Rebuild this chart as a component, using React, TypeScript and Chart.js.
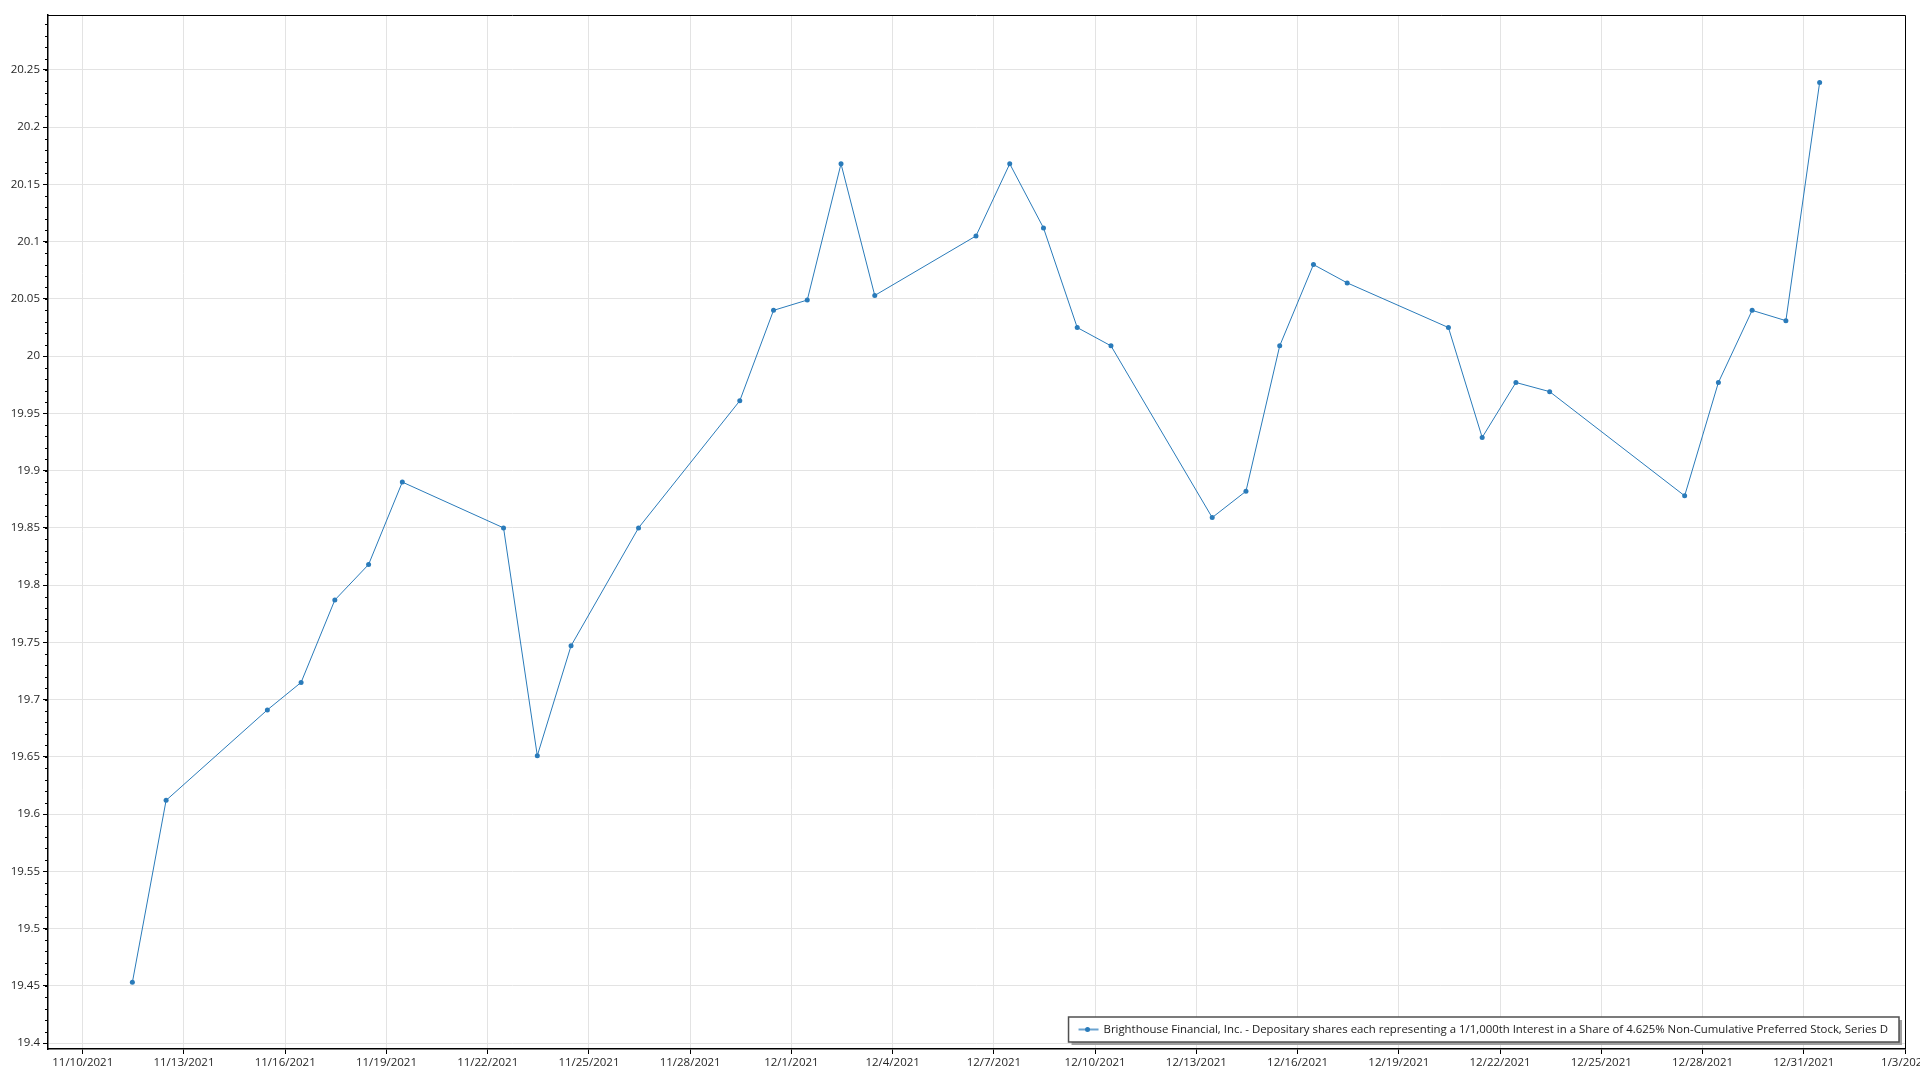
import React, { useEffect, useRef } from "react";
import { Chart, registerables } from "chart.js";

Chart.register(...registerables);

const seriesLabel =
  "Brighthouse Financial, Inc. - Depositary shares each representing a 1/1,000th Interest in a Share of 4.625% Non-Cumulative Preferred Stock, Series D";

const tradeDates = [
  "2021-11-11", "2021-11-12", "2021-11-15", "2021-11-16", "2021-11-17", "2021-11-18", "2021-11-19",
  "2021-11-22", "2021-11-23", "2021-11-24", "2021-11-26", "2021-11-29", "2021-11-30",
  "2021-12-01", "2021-12-02", "2021-12-03", "2021-12-06", "2021-12-07", "2021-12-08", "2021-12-09", "2021-12-10",
  "2021-12-13", "2021-12-14", "2021-12-15", "2021-12-16", "2021-12-17",
  "2021-12-20", "2021-12-21", "2021-12-22", "2021-12-23",
  "2021-12-27", "2021-12-28", "2021-12-29", "2021-12-30", "2021-12-31",
];

const closePrices = [
  19.453, 19.612, 19.691, 19.715, 19.787, 19.818, 19.89,
  19.85, 19.651, 19.747, 19.85, 19.961, 20.04,
  20.049, 20.168, 20.053, 20.105, 20.168, 20.112, 20.025, 20.009,
  19.859, 19.882, 20.009, 20.08, 20.064,
  20.025, 19.929, 19.977, 19.969,
  19.878, 19.977, 20.04, 20.031, 20.239,
];

const pointTimeOfDay = "T11:17:00Z";
const xAxisStart = "2021-11-08T23:17:00Z";
const xAxisEnd = "2022-01-03T00:00:00Z";
const xTickStart = "2021-11-10T00:00:00Z";
const xTickStepDays = 3;

const yAxisMin = 19.3948;
const yAxisMax = 20.298;
const yMajorStep = 0.05;
const yMinorStep = 0.01;

const DAY = 86400000;
const LINE_COLOR = "#2a7bba";
const FONT = "'Open Sans', 'Noto Sans', sans-serif";

function fmtDate(ms: number) {
  const d = new Date(ms);
  return `${d.getUTCMonth() + 1}/${d.getUTCDate()}/${d.getUTCFullYear()}`;
}

export default function App() {
  const ref = useRef<HTMLCanvasElement | null>(null);

  useEffect(() => {
    const canvas = ref.current;
    if (!canvas) return;

    const points = tradeDates.map((d, i) => ({
      x: Date.parse(d + pointTimeOfDay),
      y: closePrices[i],
    }));

    const framePlugin = {
      id: "frameAndLegend",
      afterDraw(chart: any) {
        const { ctx, chartArea } = chart;
        const { left, right, top, bottom } = chartArea;
        const yScale = chart.scales.y;
        ctx.save();
        ctx.strokeStyle = "#000";
        ctx.lineWidth = 1;
        const first = Math.ceil((yAxisMin - 1e-9) / yMinorStep);
        const last = Math.floor((yAxisMax + 1e-9) / yMinorStep);
        for (let k = first; k <= last; k++) {
          const v = k * yMinorStep;
          const py = Math.round(yScale.getPixelForValue(v)) + 0.5;
          ctx.beginPath();
          ctx.moveTo(left - 3, py);
          ctx.lineTo(left, py);
          ctx.stroke();
        }
        ctx.beginPath();
        ctx.moveTo(Math.round(left), Math.round(top) + 0.5);
        ctx.lineTo(Math.round(right) + 0.5, Math.round(top) + 0.5);
        ctx.lineTo(Math.round(right) + 0.5, Math.round(bottom));
        ctx.stroke();

        ctx.font = `11.4px ${FONT}`;
        const label = chart.data.datasets[0].label as string;
        const tw = ctx.measureText(label).width;
        const boxRight = right - 6;
        const boxBottom = bottom - 7;
        const boxH = 25;
        const boxW = tw + 35 + 11;
        const boxLeft = boxRight - boxW;
        const boxTop = boxBottom - boxH;
        ctx.fillStyle = "#a0a0a0";
        ctx.fillRect(boxLeft + 3, boxTop + 3, boxW, boxH);
        ctx.fillStyle = "#ffffff";
        ctx.fillRect(boxLeft, boxTop, boxW, boxH);
        ctx.strokeStyle = "#505050";
        ctx.lineWidth = 1.5;
        ctx.strokeRect(boxLeft, boxTop, boxW, boxH);
        const cy = boxTop + boxH / 2;
        ctx.strokeStyle = "#6aa3d0";
        ctx.lineWidth = 2;
        ctx.beginPath();
        ctx.moveTo(boxLeft + 10, cy);
        ctx.lineTo(boxLeft + 30, cy);
        ctx.stroke();
        ctx.fillStyle = LINE_COLOR;
        ctx.beginPath();
        ctx.arc(boxLeft + 19, cy, 2.5, 0, Math.PI * 2);
        ctx.fill();
        ctx.fillStyle = "#1a1a1a";
        ctx.textBaseline = "middle";
        ctx.textAlign = "left";
        ctx.fillText(label, boxLeft + 35, cy);
        ctx.restore();
      },
    };

    const chart = new Chart(canvas, {
      type: "line",
      data: {
        datasets: [
          {
            label: seriesLabel,
            data: points,
            borderColor: LINE_COLOR,
            backgroundColor: LINE_COLOR,
            borderWidth: 1,
            pointRadius: 2.5,
            pointBorderWidth: 0,
            pointBackgroundColor: LINE_COLOR,
            tension: 0,
          },
        ],
      },
      options: {
        responsive: false,
        animation: false,
        events: [],
        layout: { padding: { top: 15, right: 15, left: 0, bottom: 0 } },
        plugins: {
          legend: { display: false },
          tooltip: { enabled: false },
          title: { display: false },
        },
        scales: {
          x: {
            type: "linear",
            min: Date.parse(xAxisStart),
            max: Date.parse(xAxisEnd),
            afterBuildTicks(scale: any) {
              const ticks = [];
              const start = Date.parse(xTickStart);
              const end = Date.parse(xAxisEnd);
              for (let t = start; t <= end + 1; t += xTickStepDays * DAY) ticks.push({ value: t });
              scale.ticks = ticks;
            },
            afterFit(scale: any) {
              scale.height = 31;
              scale.paddingLeft = 0;
              scale.paddingRight = 0;
            },
            grid: {
              color: "#e3e3e3",
              lineWidth: 1,
              drawTicks: true,
              tickLength: 5,
              tickColor: "#000",
            },
            border: { display: true, color: "#000", width: 1.5 },
            ticks: {
              autoSkip: false,
              maxRotation: 0,
              minRotation: 0,
              padding: 2,
              color: "#262626",
              font: { family: FONT, size: 11.5 },
              callback: (v: any) => fmtDate(Number(v)),
            },
          },
          y: {
            type: "linear",
            min: yAxisMin,
            max: yAxisMax,
            afterBuildTicks(scale: any) {
              const ticks = [];
              const first = Math.ceil((yAxisMin - 1e-9) / yMajorStep);
              const last = Math.floor((yAxisMax + 1e-9) / yMajorStep);
              for (let k = first; k <= last; k++) ticks.push({ value: Math.round(k * yMajorStep * 100) / 100 });
              scale.ticks = ticks;
            },
            afterFit(scale: any) {
              scale.width = 48;
              scale.paddingTop = 0;
              scale.paddingBottom = 0;
            },
            grid: {
              color: "#e3e3e3",
              lineWidth: 1,
              drawTicks: true,
              tickLength: 5,
              tickColor: "#000",
            },
            border: { display: true, color: "#000", width: 1.5 },
            ticks: {
              padding: 3,
              color: "#262626",
              font: { family: FONT, size: 11.5 },
              callback: (v: any) => String(Number(Number(v).toFixed(2))),
            },
          },
        },
      } as any,
      plugins: [framePlugin],
    });

    return () => chart.destroy();
  }, []);

  return (
    <div style={{ position: "fixed", left: 0, top: 0, width: 1920, height: 1080, background: "#fff" }}>
      <canvas ref={ref} width={1920} height={1080} style={{ display: "block", width: 1920, height: 1080 }} />
    </div>
  );
}
